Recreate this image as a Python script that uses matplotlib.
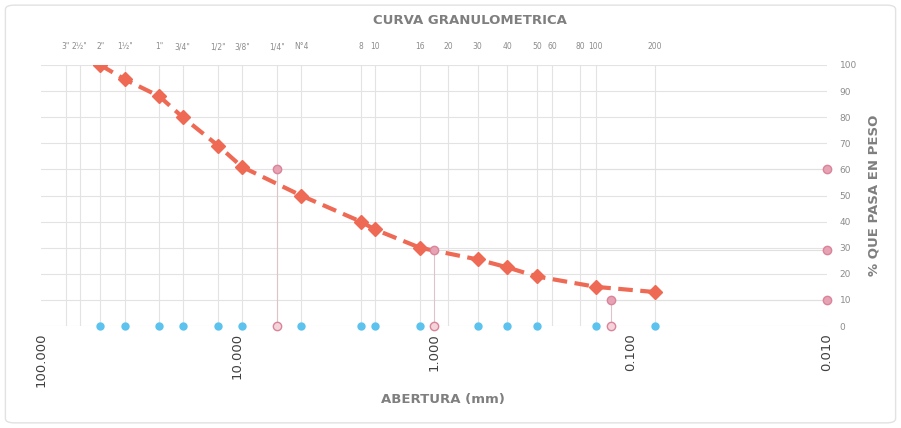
import matplotlib
matplotlib.use("Agg")
import matplotlib.pyplot as plt
from matplotlib.patches import FancyBboxPatch

# ---- data ----
sieve_sizes = [75, 63.5, 50, 37.5, 25, 19, 12.5, 9.5, 6.3, 4.75, 2.36, 2.0, 1.18, 0.85,
               0.6, 0.425, 0.3, 0.25, 0.18, 0.15, 0.075]
sieve_labels = ['3"', '2½"', '2"', '1½"', '1"', '3/4"', '1/2"', '3/8"', '1/4"', 'N°4', '8', '10',
                '16', '20', '30', '40', '50', '60', '80', '100', '200']

data_sizes = [50, 37.5, 25, 19, 12.5, 9.5, 4.75, 2.36, 2.0, 1.18, 0.6, 0.425, 0.3, 0.15, 0.075]
data_passing = [100, 94.5, 88, 80, 69, 61, 50, 40, 37, 30, 25.5, 22.5, 19, 15, 13]

d_sizes = [6.3, 1.0, 0.126]          # D60, D30, D10
d_values = [60, 29, 10]
right_edge = 0.01

xticks = [100, 10, 1, 0.1, 0.01]
xtick_labels = ['100.000', '10.000', '1.000', '0.100', '0.010']
yticks = list(range(0, 101, 10))

# ---- colors ----
RED = '#EE6A55'
BLUE = '#5BC3EE'
PINK = '#D9849A'
GRID = '#E3E3E3'
TXT = '#7F7F7F'

fig = plt.figure(figsize=(9.01, 4.28), dpi=100)
fig.patches.append(FancyBboxPatch((0.006, 0.012), 0.988, 0.976,
                                  boxstyle="round,pad=0,rounding_size=0.01",
                                  transform=fig.transFigure, facecolor='white',
                                  edgecolor='#E2E2E2', linewidth=1.0, zorder=-10))

ax = fig.add_axes([41/901, 1-326/428, (827-41)/901, (326-65)/428])
ax.set_xscale('log')
ax.set_xlim(100, 0.01)
ax.set_ylim(0, 100)
ax.patch.set_alpha(0)
for s in ax.spines.values():
    s.set_visible(False)

# grid
for y in yticks:
    ax.axhline(y, color=GRID, lw=0.8, zorder=0)
for x in sieve_sizes:
    ax.axvline(x, color=GRID, lw=0.8, zorder=0)

# D lines
for x, v in zip(d_sizes, d_values):
    ax.plot([x, x], [0, v], color='#DDC3CA', lw=0.8, zorder=1)
    ax.plot([right_edge, x], [v, v], color='#E0E0E0', lw=0.8, zorder=1)

# curve
ax.plot(data_sizes, data_passing, color=RED, lw=3, dashes=(3.5, 1.8), zorder=3)
ax.plot(data_sizes, data_passing, linestyle='none', marker='D', markersize=7.5,
        color=RED, zorder=4)

# D markers
ax.plot(d_sizes, d_values, linestyle='none', marker='o', markersize=6,
        markerfacecolor='#E7A3B3', markeredgecolor=PINK, zorder=5, clip_on=False)
ax.plot(d_sizes, [0]*len(d_sizes), linestyle='none', marker='o', markersize=6,
        markerfacecolor='#F4D3DB', markeredgecolor=PINK, zorder=5, clip_on=False)
ax.plot([right_edge]*len(d_values), d_values, linestyle='none', marker='o', markersize=6,
        markerfacecolor='#E7A3B3', markeredgecolor=PINK, zorder=5, clip_on=False)

# blue dots at sieves with data
ax.plot(data_sizes, [0]*len(data_sizes), linestyle='none', marker='o', markersize=5,
        color=BLUE, zorder=5, clip_on=False)

# bottom ticks
ax.set_xticks(xticks)
ax.set_xticklabels(xtick_labels, rotation=90, fontsize=9.5, color='#404040')
ax.xaxis.set_minor_locator(matplotlib.ticker.NullLocator())
ax.tick_params(axis='x', length=0, pad=5)

# right y axis
ax.yaxis.tick_right()
ax.set_yticks(yticks)
ax.set_yticklabels([str(v) for v in yticks], fontsize=6.5, color='#8C8C8C')
ax.tick_params(axis='y', length=0, pad=9)
ax.yaxis.set_label_position('right')
ax.set_ylabel('% QUE PASA EN PESO', fontsize=9.5, fontweight='bold', color=TXT,
              labelpad=8)

# top axis with sieve labels
top = ax.secondary_xaxis('top')
top.set_xticks(sieve_sizes)
top.set_xticklabels(sieve_labels, fontsize=5.5, color='#8C8C8C')
top.xaxis.set_minor_locator(matplotlib.ticker.NullLocator())
top.tick_params(axis='x', length=0, pad=10)
for s in top.spines.values():
    s.set_visible(False)

fig.text(470/901, 1-20/428, 'CURVA GRANULOMETRICA', ha='center', va='center',
         fontsize=9.5, fontweight='bold', color=TXT)
fig.text(443/901, 1-400/428, 'ABERTURA (mm)', ha='center', va='center',
         fontsize=9.5, fontweight='bold', color=TXT)

fig.savefig('out.png', dpi=100)
